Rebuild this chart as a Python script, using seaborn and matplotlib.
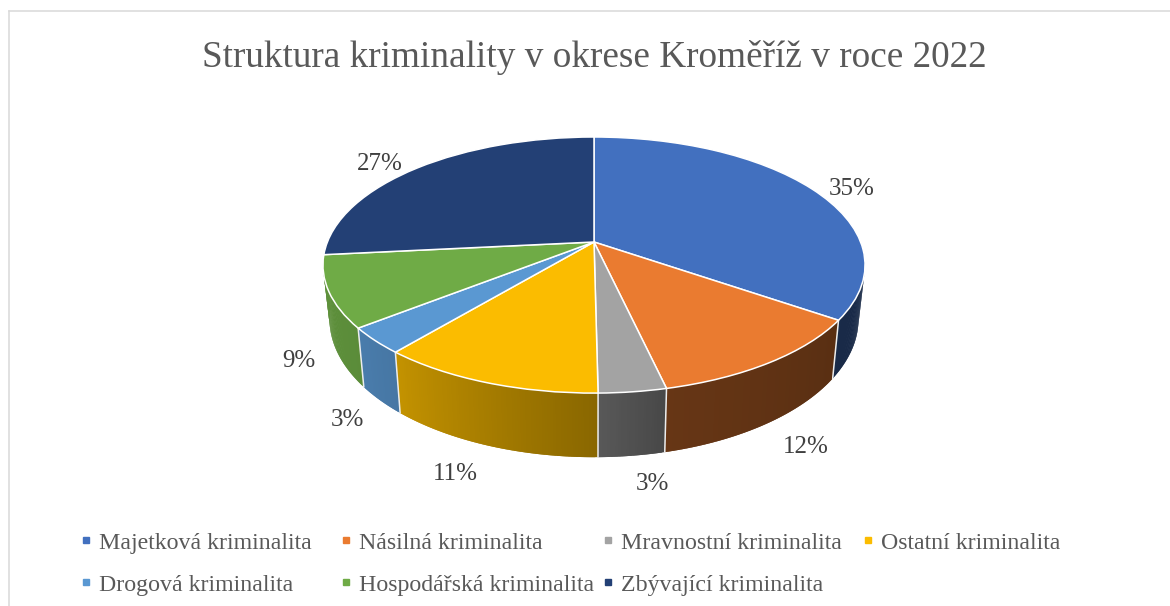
import numpy as np
import matplotlib
matplotlib.use('Agg')
import matplotlib.pyplot as plt
import matplotlib.transforms as mtransforms
from matplotlib.lines import Line2D
import seaborn as sns

# struktura kriminality (v %)
kategorie = ['Majetková kriminalita', 'Násilná kriminalita', 'Mravnostní kriminalita', 'Ostatní kriminalita',
             'Drogová kriminalita', 'Hospodářská kriminalita', 'Zbývající kriminalita']
hodnoty = [34.6, 11.8, 3.4, 11.3, 3.3, 9.0, 26.6]
barvy = ['#4270BF', '#EA7B30', '#A3A3A3', '#FBBC00', '#5A98D2', '#6FAB46', '#234075']
nadpis = 'Struktura kriminality v okrese Kroměříž v roce 2022'

# pozice popisku v pixelech obrazku
popisky_xy = [(852, 189), (806, 447), (652, 484), (455, 474), (347, 420), (299, 361), (380, 164)]
legenda_x = [81, 341, 603, 863]
legenda_sloupce = [[0, 4], [1, 5], [2, 6], [3]]

# geometrie "3D" kolace
CX, CY = 594, 242
A, B, K = 266.6, 123.9, 0.18
DOLE_X, DOLE_Y, HLOUBKA = 0.976, 1.08, 52


def projekce(u, v):
    w = 1 + K * v
    return A * u / w, B * v / w


class Perspektiva(mtransforms.Transform):
    input_dims = 2
    output_dims = 2

    def transform_non_affine(self, xy):
        xy = np.asarray(xy)
        x, y = projekce(xy[:, 0], xy[:, 1])
        return np.column_stack([CX + x, CY - y])


def horni_dolni(theta):
    x, y = projekce(np.cos(np.radians(theta)), np.sin(np.radians(theta)))
    return CX + x, CY - y, CX + DOLE_X * x, CY - (DOLE_Y * y - HLOUBKA)


def jas(theta):
    # theta merena po smeru od vrchu, bok je vlevo svetlejsi
    return np.interp(90 - theta, [85, 124, 167, 180, 220, 232, 275], [.36, .38, .44, .55, .78, .82, .86])


sns.set_theme(style='white')
plt.rcParams['font.family'] = ['Liberation Serif']
paleta = sns.color_palette(barvy)

fig = plt.figure(figsize=(11.7, 6.06), dpi=100)
ax = fig.add_axes([9 / 1170, 0, 1161 / 1170, 595 / 606])

wedges, _ = ax.pie(hodnoty, colors=paleta, startangle=90, counterclock=False,
                   wedgeprops={'edgecolor': 'white', 'linewidth': 1.1, 'zorder': 3})
for w in wedges:
    w.set_transform(Perspektiva() + ax.transData)

ax.set_aspect('auto')
ax.set_xlim(9, 1170)
ax.set_ylim(606, 11)
ax.set_frame_on(True)
for s in ['right', 'bottom']:
    ax.spines[s].set_visible(False)
for s in ['top', 'left']:
    ax.spines[s].set_visible(True)
    ax.spines[s].set_color('#D9D9D9')
    ax.spines[s].set_linewidth(1.1)

# bocni stena po prouzcich kvuli prechodu barvy, prouzky se prekryvaji at nejsou videt spary
krok = 0.5
for w, barva in zip(wedges, paleta):
    if w.theta2 < -170:  # posledni vysec je cela vzadu
        continue
    hi = min(w.theta2, -14)
    for t1 in np.arange(hi, w.theta1, -krok):
        t0 = max(t1 - 2 * krok, w.theta1)
        x0, y0, xb0, yb0 = horni_dolni(t0)
        x1, y1, xb1, yb1 = horni_dolni(t1)
        c = np.array(barva) * jas(t1 - krok / 2)
        ax.fill([x0, x1, xb1, xb0], [y0, y1, yb1, yb0], color=c, lw=0, zorder=1)
    if -172 < w.theta1 < 0:
        x0, y0, xb0, yb0 = horni_dolni(w.theta1)
        ax.plot([x0, xb0], [y0, yb0], color='#EDEDED', lw=1.1, zorder=2)

for hodnota, (x, y) in zip(hodnoty, popisky_xy):
    ax.text(x, y, f'{hodnota:.0f}%', fontsize=18, color='#404040', ha='center', va='center')

ax.text(594, 58, nadpis, fontsize=26.8, color='#595959', ha='center', va='center')

for x, sloupec in zip(legenda_x, legenda_sloupce):
    handles = [Line2D([], [], marker='s', ms=5, ls='none', color=paleta[i]) for i in sloupec]
    leg = ax.legend(handles, [kategorie[i] for i in sloupec], loc='upper left',
                    bbox_to_anchor=(x, 532), bbox_transform=ax.transData, frameon=False,
                    fontsize=17.2, labelcolor='#595959', borderpad=0, borderaxespad=0,
                    handlelength=0.42, handletextpad=0.33, labelspacing=0.85)
    ax.add_artist(leg)
ax.legend_ = None

plt.savefig('out.png', dpi=100)
